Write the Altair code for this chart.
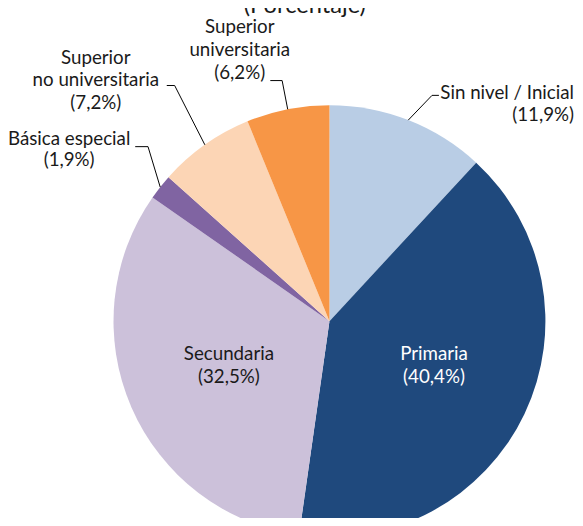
import altair as alt
import numpy as np
import pandas as pd

# ---- data ----
categories = ["Sin nivel / Inicial", "Primaria", "Secundaria", "Básica especial",
              "Superior no universitaria", "Superior universitaria"]
values = [11.9, 40.4, 32.5, 1.9, 7.2, 6.2]
label_names = [["Sin nivel / Inicial"], ["Primaria"], ["Secundaria"], ["Básica especial"],
               ["Superior", "no universitaria"], ["Superior", "universitaria"]]
title_text = "(Porcentaje)"

# ---- style / layout ----
colors = ["#b9cde5", "#1f497d", "#ccc1da", "#8064a2", "#fcd5b5", "#f79646"]
W, H = 575, 510
CX, CY, R = 326, 314, 219
FONT = "Lato"
FS = 19
# label anchor: x, y of first line centre, line spacing, align, colour
label_layout = [
    (574, 83, 22, "right", "#1a1a1a"),
    (432, 347, 24, "center", "#ffffff"),
    (224, 347, 24, "center", "#1a1a1a"),
    (62, 129, 22, "center", "#1a1a1a"),
    (89, 47, 23, "center", "#1a1a1a"),
    (235, 16, 23, "center", "#1a1a1a"),
]
# leader lines: (text-side x, elbow x, y) per category index
leader_layout = {
    0: (437, 430, 85),
    3: (129, 142, 137),
    4: (161, 169, 75),
    5: (266, 278, 70),
}

pie_df = pd.DataFrame({"cat": categories, "value": values, "idx": range(len(values))})

# labels
rows = []
total = sum(values)
for i, (cat, v) in enumerate(zip(categories, values)):
    lx, ly, dy, al, col = label_layout[i]
    lines = label_names[i] + ["(" + f"{v:.1f}".replace(".", ",") + "%)"]
    for j, t in enumerate(lines):
        rows.append({"t": t, "x": lx, "y": ly + j * dy, "align": al, "col": col})
lab_df = pd.DataFrame(rows)

# leader lines: edge point derived from slice mid-angle
cum = np.cumsum([0] + values[:-1])
lrows = []
for i, (tx, ex, ly) in leader_layout.items():
    mid = (cum[i] + values[i] / 2) / total * 2 * np.pi
    px = CX + R * np.sin(mid)
    py = CY - R * np.cos(mid)
    for k, (xx, yy) in enumerate([(tx, ly), (ex, ly), (px, py)]):
        lrows.append({"cat": categories[i], "x": xx, "y": yy, "k": k})
lead_df = pd.DataFrame(lrows)

sx = alt.Scale(domain=[0, W], range=[0, W])
sy = alt.Scale(domain=[0, H], range=[0, H])

pie = alt.Chart(pie_df).mark_arc(x=CX, y=CY, outerRadius=R).encode(
    theta=alt.Theta("value:Q", stack=True),
    color=alt.Color("cat:N", scale=alt.Scale(domain=categories, range=colors), legend=None),
    order=alt.Order("idx:Q"),
)

leaders = alt.Chart(lead_df).mark_line(color="#000000", strokeWidth=1).encode(
    x=alt.X("x:Q", scale=sx, axis=None),
    y=alt.Y("y:Q", scale=sy, axis=None),
    detail="cat:N",
    order="k:Q",
)

def text_layer(align):
    d = lab_df[lab_df["align"] == align]
    return alt.Chart(d).mark_text(align=align, baseline="middle", font=FONT, fontSize=FS).encode(
        x=alt.X("x:Q", scale=sx, axis=None),
        y=alt.Y("y:Q", scale=sy, axis=None),
        text="t:N",
        color=alt.Color("col:N", scale=None),
    )

title = alt.Chart(pd.DataFrame({"t": [title_text]})).mark_text(
    align="center", baseline="alphabetic", font=FONT, fontSize=24, color="#1a1a1a"
).encode(text="t:N", x=alt.value(301), y=alt.value(1))

chart = alt.layer(pie, leaders, text_layer("center"), text_layer("right"), title).properties(
    width=W, height=H, autosize=alt.AutoSizeParams(type="none"), padding=0
).configure_view(stroke=None)

chart.save("out.html", embed_options={"renderer": "svg", "actions": False})
